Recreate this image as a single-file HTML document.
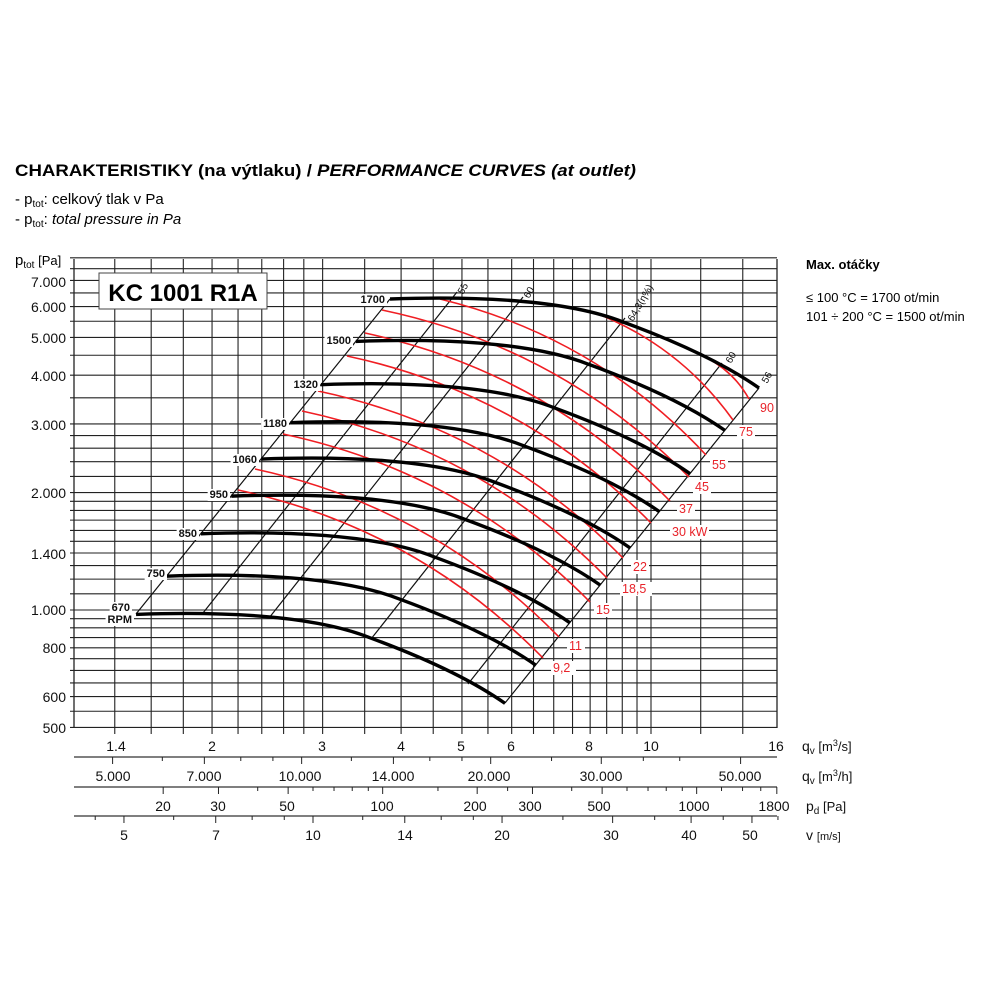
<!DOCTYPE html>
<html><head><meta charset="utf-8"><style>
html,body{margin:0;padding:0;background:#fff;width:1000px;height:1000px;overflow:hidden}
svg{display:block;font-family:"Liberation Sans",sans-serif}
.lbl{font-size:14px;fill:#111}
.red{font-size:12.5px;fill:#e8232a}
.rpm{font-size:11px;font-weight:bold;fill:#111}
.eff{font-size:10px;fill:#111}
</style></head><body>
<svg id="s" width="1000" height="1000" viewBox="0 0 1000 1000" xmlns="http://www.w3.org/2000/svg">
<rect width="1000" height="1000" fill="#fff"/>
<text x="15" y="176" font-size="17" font-weight="bold" textLength="621" lengthAdjust="spacingAndGlyphs">CHARAKTERISTIKY (na výtlaku) / <tspan font-style="italic">PERFORMANCE CURVES (at outlet)</tspan></text>
<text x="15" y="204" font-size="15">- p<tspan font-size="10" dy="3">tot</tspan><tspan dy="-3">: celkový tlak v Pa</tspan></text>
<text x="15" y="224" font-size="15">- p<tspan font-size="10" dy="3">tot</tspan><tspan dy="-3">: </tspan><tspan font-style="italic">total pressure in Pa</tspan></text>
<text x="15" y="265" font-size="15">p<tspan font-size="10" dy="3">tot</tspan><tspan dy="-3" font-size="13"> [Pa]</tspan></text>
<g id="grid"></g>
<g id="ticks"></g>
<rect x="99" y="273" width="168" height="36" fill="#fff" stroke="#444" stroke-width="1"/>
<text x="183" y="301" font-size="24" font-weight="bold" text-anchor="middle">KC 1001 R1A</text>
<g id="diag" stroke="#111" stroke-width="1.2" fill="none"></g>
<g id="reds" stroke="#f01e23" stroke-width="1.6" fill="none"></g>
<defs><path id="c" d="M390,299 C470,296 565,299 623,322 C672,340 722,362 759,388"/></defs>
<g id="fans" stroke="#000" stroke-width="3.4" fill="none"></g>
<g class="lbl" text-anchor="end">
<text x="66" y="287">7.000</text><text x="66" y="312">6.000</text><text x="66" y="343">5.000</text>
<text x="66" y="381">4.000</text><text x="66" y="430">3.000</text><text x="66" y="498">2.000</text>
<text x="66" y="559">1.400</text><text x="66" y="615">1.000</text><text x="66" y="653">800</text>
<text x="66" y="702">600</text><text x="66" y="733">500</text>
</g>
<g class="lbl" text-anchor="middle">
<text x="116" y="751">1.4</text><text x="212" y="751">2</text><text x="322" y="751">3</text><text x="401" y="751">4</text><text x="461" y="751">5</text><text x="511" y="751">6</text><text x="589" y="751">8</text><text x="651" y="751">10</text><text x="776" y="751">16</text>
<text x="113" y="781">5.000</text><text x="204" y="781">7.000</text><text x="300" y="781">10.000</text><text x="393" y="781">14.000</text><text x="489" y="781">20.000</text><text x="601" y="781">30.000</text><text x="740" y="781">50.000</text>
<text x="163" y="811">20</text><text x="218" y="811">30</text><text x="287" y="811">50</text><text x="382" y="811">100</text><text x="475" y="811">200</text><text x="530" y="811">300</text><text x="599" y="811">500</text><text x="694" y="811">1000</text><text x="774" y="811">1800</text>
<text x="124" y="840">5</text><text x="216" y="840">7</text><text x="313" y="840">10</text><text x="405" y="840">14</text><text x="502" y="840">20</text><text x="611" y="840">30</text><text x="689" y="840">40</text><text x="750" y="840">50</text>
</g>
<g class="lbl">
<text x="802" y="751">q<tspan font-size="10" dy="3">v</tspan><tspan dy="-3" font-size="13"> [m<tspan font-size="9" dy="-5">3</tspan><tspan dy="5">/s]</tspan></tspan></text>
<text x="802" y="781">q<tspan font-size="10" dy="3">v</tspan><tspan dy="-3" font-size="13"> [m<tspan font-size="9" dy="-5">3</tspan><tspan dy="5">/h]</tspan></tspan></text>
<text x="806" y="811">p<tspan font-size="10" dy="3">d</tspan><tspan dy="-3" font-size="13"> [Pa]</tspan></text>
<text x="806" y="840">v <tspan font-size="11">[m/s]</tspan></text>
</g>
<text x="806" y="269" font-size="13" font-weight="bold">Max. otáčky</text>
<text x="806" y="302" font-size="13">≤ 100 °C = 1700 ot/min</text>
<text x="806" y="321" font-size="13">101 ÷ 200 °C = 1500 ot/min</text>
<g class="rpm" text-anchor="end" id="rpml">
<text x="385" y="303">1700</text><text x="351" y="344">1500</text><text x="318" y="388">1320</text>
<text x="287" y="427">1180</text><text x="257" y="463">1060</text><text x="228" y="498">950</text>
<text x="197" y="537">850</text><text x="165" y="577">750</text><text x="130" y="611">670</text><text x="132" y="623">RPM</text>
</g>
<g class="eff">
<text transform="translate(463,295) rotate(-60)">55</text>
<text transform="translate(529,299) rotate(-60)">60</text>
<text transform="translate(633,322) rotate(-60)">64,3(η%)</text>
<text transform="translate(731,364) rotate(-60)">60</text>
<text transform="translate(767,384) rotate(-60)">56</text>
</g>
<g id="redl" class="red"></g>
</svg>
<script>
const NS="http://www.w3.org/2000/svg";
function el(p,t,a){const e=document.createElementNS(NS,t);for(const k in a)e.setAttribute(k,a[k]);document.getElementById(p).appendChild(e);return e;}
const X=q=>651+628*Math.log10(q/10), Y=p=>610-390*Math.log10(p/1000);
const L=74,R=777,T=259,B=728;
const qs=[1.4,1.6,1.8,2,2.2,2.4,2.6,2.8,3,3.5,4,4.5,5,5.5,6,6.5,7,7.5,8,8.5,9,9.5,10,12,14];
qs.forEach(q=>{const x=X(q);el('grid','line',{x1:x,x2:x,y1:T,y2:B+6,stroke:'#222','stroke-width':1.1});});
[L,R].forEach(x=>el('grid','line',{x1:x,x2:x,y1:T,y2:B,stroke:'#111','stroke-width':1.2}));
const ps=[500,550,600,650,700,750,800,850,900,950,1000,1100,1200,1300,1400,1500,1600,1700,1800,1900,2000,2200,2400,2600,2800,3000,3500,4000,4500,5000,5500,6000,6500,7000,7500,8000];
ps.forEach(p=>{const y=Y(p);el('grid','line',{x1:70,x2:R,y1:y,y2:y,stroke:'#222','stroke-width':1.1});});
[757,787,816].forEach(y=>el('ticks','line',{x1:L,x2:R,y1:y,y2:y,stroke:'#333','stroke-width':1.3}));
function tick(x,y,len){if(x<L-1||x>R+1)return;el('ticks','line',{x1:x,x2:x,y1:y,y2:y+len,stroke:'#222','stroke-width':1});}
for(let h=5000;h<=60000;h+=(h<10000?1000:h<20000?2000:h<40000?5000:10000)){tick(X(h/3600),757,[5000,7000,10000,14000,20000,30000,50000].includes(h)?7:4);}
const Xv=v=>313+628*Math.log10(v/10);
[20,30,40,50,60,70,80,90,100,150,200,250,300,400,500,600,700,800,900,1000,1200,1400,1600,1800].forEach(pd=>tick(Xv(Math.sqrt(pd/0.6)),787,[20,30,50,100,200,300,500,1000,1800].includes(pd)?7:4));
[4.5,5,6,7,8,9,10,12,14,16,18,20,25,30,35,40,45,50,55].forEach(v=>tick(Xv(v),816,[5,7,10,14,20,30,40,50].includes(v)?7:4));
const D=[-254,315];
[[390,299],[457,298],[523,303],[625,324],[722,369],[759,388]].forEach((p,i)=>{
 el('diag','line',{x1:p[0],y1:p[1]-(i>0&&i<5?6:0),x2:p[0]+D[0],y2:p[1]+D[1]});});
[670,750,850,950,1060,1180,1320,1500,1700].forEach(n=>{const l=Math.log10(n/1700);
 el('fans','use',{href:'#c',transform:`translate(${628*l},${-780*l})`});});
const R_=[["9,2",238,490,543,658,555,672],["11",255,469,559,637,571,650],["15",283,434,590,602,598,614],["18,5",302,411,607,578,624,593],["22",318,391,623,558,635,571],["30 kW",347,356,651,523,674,536],["37",365,333,670,501,681,513],["45",382,310,689,477,697,491],["55",440,299,706,455,714,469],["75",593,312,733,420,741,436],["90",707,358,749,399,762,412]];
R_.forEach(r=>{const [t,sx,sy,ex,ey,lx,ly]=r;const dx=ex-sx,dy=ey-sy,Ln=Math.hypot(dx,dy);
 const nx=dy/Ln,ny=-dx/Ln,b=0.075*Ln;const cx=(sx+ex)/2+2*b*nx,cy=(sy+ey)/2+2*b*ny;
 el('reds','path',{d:`M${sx},${sy} Q${cx},${cy} ${ex},${ey}`});
 const w=t.length*7+4;el('redl','rect',{x:lx-4,y:ly-11,width:w,height:14,fill:'#fff'});
 const e=el('redl','text',{x:lx-2,y:ly});e.textContent=t;});
document.querySelectorAll('#rpml text').forEach(t=>{const bb=t.getBBox();const r=document.createElementNS(NS,'rect');
 r.setAttribute('x',bb.x-2);r.setAttribute('y',bb.y);r.setAttribute('width',bb.width+4);r.setAttribute('height',bb.height);r.setAttribute('fill','#fff');
 t.parentNode.insertBefore(r,t);});
</script>
</body></html>
